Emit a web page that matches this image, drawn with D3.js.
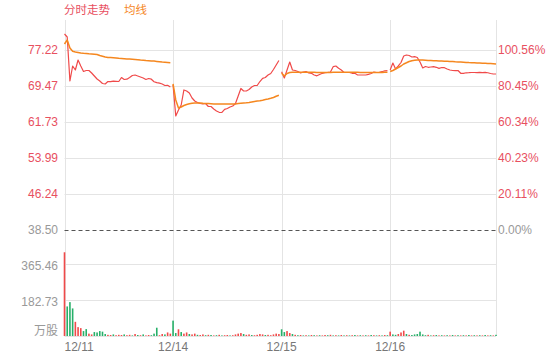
<!DOCTYPE html>
<html><head><meta charset="utf-8">
<script src="https://cdn.jsdelivr.net/npm/d3@7"></script>
<style>
html,body{margin:0;padding:0;background:#fff;}
svg{display:block;font-family:"Liberation Sans",Arial,"Noto Sans CJK SC",sans-serif;}
</style></head>
<body><svg id="c" width="560" height="360"></svg>
<script>
const dates = ["12/11","12/14","12/15","12/16"];
const priceTicks = [38.50, 46.24, 53.99, 61.73, 69.47, 77.22];
const pctTicks = ["0.00%","20.11%","40.23%","60.34%","80.45%","100.56%"];
const volTicks = [0, 182.73, 365.46];
const volTickLabels = ["万股","182.73","365.46"];
const basePrice = 38.50;

const priceDay1 = [80.66,80.02,70.55,73.78,72.92,75.07,73.78,72.60,72.81,72.81,72.27,71.63,70.98,70.55,70.01,69.91,70.44,70.40,70.51,70.49,70.44,71.30,70.87,70.94,71.30,71.73,71.84,71.63,71.41,71.20,70.87,71.09,70.94,70.40,70.19,70.08,69.91,69.58,69.63,69.26];
const priceDay2 = [69.69,63.02,64.31,65.39,68.62,68.40,67.97,66.90,66.25,65.93,65.71,65.61,65.71,65.07,65.07,64.53,64.10,63.82,63.78,64.46,64.64,64.96,65.17,65.71,67.33,68.94,68.40,68.40,68.72,69.26,69.58,69.58,70.44,71.13,71.30,71.84,72.17,73.03,73.99,74.96];
const priceDay3 = [72.55,71.20,72.92,74.64,72.92,72.81,72.60,72.27,72.49,72.60,72.27,72.21,71.84,71.67,71.95,72.21,72.34,72.40,72.49,73.63,73.78,73.28,72.92,72.38,72.38,72.38,72.21,72.21,71.84,71.84,71.84,71.84,71.99,72.17,72.49,72.38,72.42,72.55,72.75,72.77];
const priceDay4 = [72.92,74.42,73.13,73.78,74.53,75.93,76.14,76.04,75.71,75.78,75.61,74.64,73.35,73.67,73.50,73.56,73.63,73.50,73.28,73.46,73.41,73.13,72.92,72.81,72.77,72.81,72.21,72.21,72.32,72.34,72.38,72.38,72.36,72.40,72.36,72.40,72.32,72.17,72.06,72.06];

const avgDay1 = [78.51,79.37,77.65,76.94,76.79,76.68,76.57,76.51,76.47,76.40,76.36,76.32,76.25,76.04,75.87,75.71,75.63,75.59,75.54,75.50,75.43,75.39,75.33,75.28,75.26,75.22,75.18,75.13,75.07,75.03,74.96,74.92,74.88,74.83,74.77,74.70,74.64,74.60,74.55,74.49];
const avgDay2 = [69.91,66.47,64.74,64.96,65.28,65.50,65.65,65.75,65.82,65.82,65.80,65.75,65.73,65.69,65.65,65.61,65.61,65.61,65.61,65.61,65.61,65.61,65.61,65.63,65.69,65.75,65.82,65.86,65.93,66.03,66.14,66.25,66.31,66.42,66.55,66.68,66.83,67.00,67.26,67.48];
const avgDay3 = [72.21,71.63,72.17,72.38,72.42,72.42,72.44,72.44,72.45,72.45,72.44,72.43,72.42,72.40,72.39,72.38,72.38,72.39,72.40,72.42,72.45,72.46,72.46,72.45,72.45,72.44,72.43,72.42,72.41,72.40,72.39,72.38,72.38,72.38,72.39,72.39,72.40,72.40,72.41,72.42];
const avgDay4 = [72.60,72.81,73.13,73.46,73.78,74.21,74.47,74.75,74.92,75.00,75.07,75.07,75.05,75.00,74.96,74.94,74.92,74.90,74.85,74.83,74.81,74.79,74.75,74.72,74.68,74.66,74.64,74.60,74.55,74.51,74.49,74.47,74.42,74.40,74.38,74.36,74.32,74.29,74.25,74.21];

const volDay1 = [425,150,172,140,72,45,40,25,35,12,8,20,18,25,22,10,6,5,8,4,6,5,8,4,6,3,10,5,4,8,3,5,4,12,42,4,10,8,18,12];
const volDay2 = [78,15,34,20,12,18,10,8,12,6,5,8,4,6,5,3,4,6,3,4,5,3,4,8,12,15,10,6,8,5,4,6,10,8,5,6,4,8,12,10];
const volDay3 = [34,20,25,15,10,6,4,5,3,4,3,5,4,3,4,3,5,4,6,3,4,3,5,3,4,3,4,5,3,4,3,4,3,5,4,3,4,3,5,4];
const volDay4 = [22,8,6,10,18,27,10,6,5,8,10,22,8,4,6,3,4,5,3,4,3,4,3,5,3,4,3,4,3,5,3,4,3,4,3,5,3,4,3,6];
const volUpDay1 = [1,0,0,0,1,1,1,0,0,1,1,0,0,0,0,0,1,1,0,1,1,1,0,1,1,0,1,0,1,0,1,1,0,0,0,1,1,0,1,1];
const volUpDay2 = [0,0,1,0,1,1,0,1,1,0,1,1,0,1,0,1,0,1,0,1,1,0,1,1,1,1,0,1,1,0,1,1,1,1,0,1,1,1,1,1];
const volUpDay3 = [0,0,1,1,0,1,0,1,0,1,0,1,0,1,0,1,1,0,1,0,1,0,1,0,1,0,1,0,1,0,1,0,1,0,1,0,1,0,1,0];
const volUpDay4 = [1,0,0,1,1,1,0,1,0,0,0,0,0,0,1,0,1,0,1,0,1,0,1,0,1,0,1,0,1,0,1,0,1,0,1,0,1,0,1,0];

const pricesByDay = [priceDay1, priceDay2, priceDay3, priceDay4];
const avgByDay = [avgDay1, avgDay2, avgDay3, avgDay4];
const volByDay = [volDay1, volDay2, volDay3, volDay4];
const volUpByDay = [volUpDay1, volUpDay2, volUpDay3, volUpDay4];

const RED = "#f04a4a", ORANGE = "#f5871f", GREEN = "#27b069";
const TXT_RED = "#e8505f", TXT_GRAY = "#999";
const GRID = "#e4e4e4";
const L = 64.5, R = 496, TOP = 20, BOTTOM = 336;
const perDay = 40;
const nTotal = perDay * dates.length;

const svg = d3.select("#c");
const x = d3.scaleLinear().domain([0, nTotal - 1]).range([L, R]);
const y = d3.scaleLinear().domain([priceTicks[0], priceTicks[5]]).range([230, 50]);
const yv = d3.scaleLinear().domain([0, volTicks[2]]).range([BOTTOM, 264]);

// title legend
svg.append("text").attr("x", 64).attr("y", 14).attr("font-size", 11.5).attr("fill", TXT_RED)
  .attr("font-family", "'Noto Sans CJK SC',sans-serif").text("分时走势");
svg.append("text").attr("x", 124).attr("y", 14).attr("font-size", 11.5).attr("fill", ORANGE)
  .attr("font-family", "'Noto Sans CJK SC',sans-serif").text("均线");

// horizontal grid (price)
priceTicks.forEach((t, i) => {
  if (i === 0) return;
  svg.append("line").attr("x1", L).attr("x2", R).attr("y1", Math.round(y(t)) + 0.5).attr("y2", Math.round(y(t)) + 0.5)
    .attr("stroke", GRID).attr("stroke-width", 1);
});
// volume grid
volTicks.forEach(t => {
  svg.append("line").attr("x1", L).attr("x2", R).attr("y1", Math.round(yv(t)) + 0.5).attr("y2", Math.round(yv(t)) + 0.5)
    .attr("stroke", GRID).attr("stroke-width", 1);
});
// vertical grid
const vlines = [0, perDay, 2 * perDay, 3 * perDay, nTotal - 1];
vlines.forEach(v => {
  const xx = Math.round(x(v)) + 0.5;
  svg.append("line").attr("x1", xx).attr("x2", xx).attr("y1", TOP).attr("y2", BOTTOM)
    .attr("stroke", GRID).attr("stroke-width", 1);
});

// base dashed line
svg.append("line").attr("x1", L).attr("x2", R).attr("y1", Math.round(y(basePrice)) + 0.5).attr("y2", Math.round(y(basePrice)) + 0.5)
  .attr("stroke", "#555").attr("stroke-width", 1).attr("stroke-dasharray", "4,3");

// price axis labels
priceTicks.forEach((t, i) => {
  svg.append("text").attr("x", 58).attr("y", y(t)).attr("dy", "0.35em").attr("text-anchor", "end")
    .attr("font-size", 12).attr("fill", i === 0 ? TXT_GRAY : TXT_RED).text(t.toFixed(2));
  svg.append("text").attr("x", 498).attr("y", y(t)).attr("dy", "0.35em").attr("text-anchor", "start")
    .attr("font-size", 12).attr("fill", i === 0 ? TXT_GRAY : TXT_RED).text(pctTicks[i]);
});
// volume labels
volTicks.forEach((t, i) => {
  const isZero = i === 0;
  svg.append("text").attr("x", 58).attr("y", isZero ? yv(t) - 5 : yv(t) + 2).attr("dy", "0.35em").attr("text-anchor", "end")
    .attr("font-size", 12).attr("fill", TXT_GRAY)
    .attr("font-family", isZero ? "'Noto Sans CJK SC',sans-serif" : null)
    .text(volTickLabels[i]);
});

// date labels
dates.forEach((d, i) => {
  svg.append("text").attr("x", i === 0 ? x(0) : x(i * perDay)).attr("y", 351)
    .attr("text-anchor", i === 0 ? "start" : "middle").attr("font-size", 12).attr("fill", "#777").text(d);
});

// volume bars
volByDay.forEach((vals, di) => {
  svg.append("g").selectAll("rect").data(vals).join("rect")
    .attr("x", (v, i) => x(di * perDay + i) - 0.8)
    .attr("width", 1.6)
    .attr("y", v => yv(v))
    .attr("height", v => BOTTOM - yv(v))
    .attr("fill", (v, i) => volUpByDay[di][i] ? RED : GREEN);
});

// lines
const line = d3.line().x(d => x(d.i)).y(d => y(d.v));
pricesByDay.forEach((vals, di) => {
  const pts = vals.map((v, i) => ({ i: di * perDay + i, v }));
  svg.append("path").attr("d", line(pts)).attr("fill", "none").attr("stroke", RED).attr("stroke-width", 1.2)
    .attr("stroke-linejoin", "round");
});
avgByDay.forEach((vals, di) => {
  const pts = vals.map((v, i) => ({ i: di * perDay + i, v }));
  svg.append("path").attr("d", line(pts)).attr("fill", "none").attr("stroke", ORANGE).attr("stroke-width", 1.5)
    .attr("stroke-linejoin", "round");
});
</script></body></html>
